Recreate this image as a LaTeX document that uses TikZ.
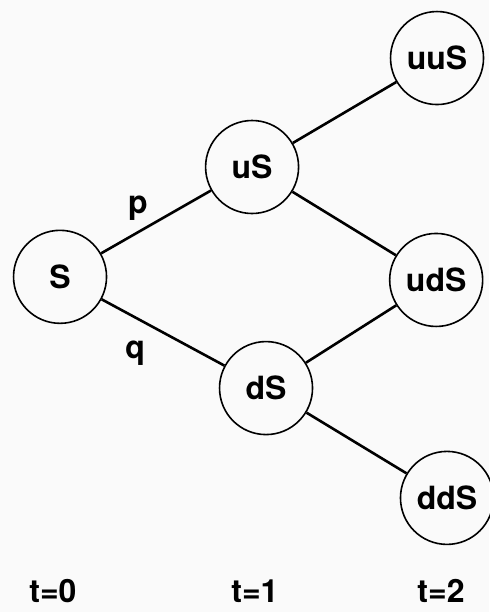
\documentclass[tikz,border=0pt]{standalone}
\usepackage{fontspec}
\setmainfont{TeX Gyre Heros}
\usetikzlibrary{positioning}
\tikzset{
  state/.style={circle,draw,line width=1.6pt,minimum size=93pt,inner sep=0pt,font=\fontsize{32}{34}\selectfont\bfseries},
  branch/.style={line width=2.6pt},
  lab/.style={font=\fontsize{32}{34}\selectfont\bfseries}
}

\begin{document}
\begin{tikzpicture}
  \fill[gray!4] (0,0) rectangle (17.19,21.51);
  \useasboundingbox (0,0) rectangle (17.19,21.51);
  \node[state] (S) at (2.11,11.78) {S};
  \node[state] (uS) at (8.86,15.64) {uS};
  \node[state] (dS) at (9.35,7.87) {dS};
  \node[state] (uuS) at (15.36,19.47) {uuS};
  \node[state] (udS) at (15.33,11.67) {udS};
  \node[state] (ddS) at (15.71,4.01) {ddS};
  \draw[branch] (S) -- (uS);
  \draw[branch] (S) -- (dS);
  \draw[branch] (uS) -- (uuS);
  \draw[branch] (uS) -- (udS);
  \draw[branch] (dS) -- (udS);
  \draw[branch] (dS) -- (ddS);
  \node[lab] (p) at (4.85,14.20) {p};
  \node[lab] (q) at (4.75,9.10) {q};
  \node[lab] (t0) at (1.86,0.74) {t=0};
  \node[lab] (t1) at (8.96,0.74) {t=1};
  \node[lab] (t2) at (15.50,0.74) {t=2};
\end{tikzpicture}
\end{document}
